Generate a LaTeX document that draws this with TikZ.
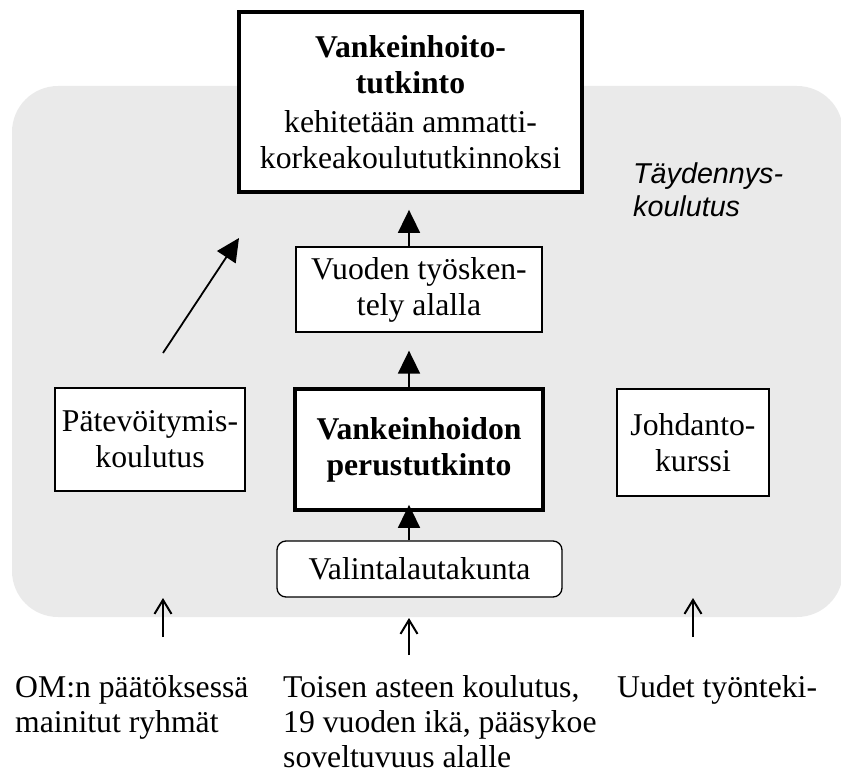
\documentclass[tikz,border=0pt]{standalone}
\usepackage{fontspec}
\setmainfont{Liberation Serif}
\newfontfamily\arialfont{Liberation Sans}
\usetikzlibrary{arrows.meta}
\definecolor{taustaharmaa}{RGB}{234,234,234}

\begin{document}
\begin{tikzpicture}[x=1pt,y=-1pt,
  teksti/.style={font=\fontsize{31.7pt}{36pt}\selectfont,align=center,inner sep=0pt},
  alateksti/.style={font=\fontsize{31.7pt}{35pt}\selectfont,align=left,anchor=base west,inner sep=0pt},
  laatikko/.style={teksti,draw,fill=white,line width=1.3pt},
  paksu/.style={teksti,draw,fill=white,line width=3.8pt},
  nuoli/.style={line width=1.8pt,-{Triangle[length=23pt,width=22pt]}},
  ohutnuoli/.style={line width=2pt,-{Straight Barb[length=14pt,width=17pt,line width=2pt]}}]
  \useasboundingbox (0,0) rectangle (841,773);

  %harmaa tausta
  \fill[taustaharmaa,rounded corners=46pt] (12,86) rectangle (843,617);
  \node[font=\arialfont\itshape\fontsize{28.7pt}{33pt}\selectfont,align=left,anchor=base west,inner sep=0pt] (taydennys) at (633,216) {Täydennys-\\koulutus};

  %laatikot
  \node[paksu,minimum width=343pt,minimum height=180pt] (tutkinto) at (410.5,102) {\textbf{Vankeinhoito-}\\\textbf{tutkinto}\\[3pt]kehitetään ammatti-\\korkeakoulututkinnoksi};
  \node[laatikko,minimum width=246pt,minimum height=85pt] (tyo) at (419,289.5) {Vuoden työsken-\\tely alalla};
  \node[paksu,minimum width=248pt,minimum height=121pt] (perus) at (419,449.5) {\textbf{Vankeinhoidon}\\\textbf{perustutkinto}};
  \node[laatikko,rounded corners=9pt,minimum width=285pt,minimum height=56pt] (valinta) at (419.5,569) {Valintalautakunta};
  \node[laatikko,minimum width=190pt,minimum height=103pt] (pate) at (150,439.5) {Pätevöitymis-\\koulutus};
  \node[laatikko,minimum width=152pt,minimum height=107pt] (johdanto) at (693,442.5) {Johdanto-\\kurssi};

  %nuolet
  \coordinate (akseli) at (409,0);
  \draw[nuoli,shorten >=-7pt] (valinta.north -| akseli) -- (perus.south -| akseli);
  \draw[nuoli,shorten >=18pt] (perus.north -| akseli) -- (tyo.south -| akseli);
  \draw[nuoli,shorten >=16pt] (tyo.north -| akseli) -- (tutkinto.south -| akseli);

  \coordinate (vino1) at (163,353);
  \coordinate (vino2) at (239,238);
  \draw[nuoli] (vino1) -- (vino2);

  %alarivi
  \coordinate (om1) at (163,637);
  \coordinate (om2) at (163,598);
  \coordinate (toinen1) at (409,655);
  \coordinate (toinen2) at (409,618);
  \coordinate (uudet1) at (693,637);
  \coordinate (uudet2) at (693,598);
  \draw[ohutnuoli] (om1) -- (om2);
  \draw[ohutnuoli] (toinen1) -- (toinen2);
  \draw[ohutnuoli] (uudet1) -- (uudet2);

  \node[alateksti] (omteksti) at (15,732) {OM:n päätöksessä\\mainitut ryhmät};
  \node[alateksti] (toinenteksti) at (283,767) {Toisen asteen koulutus,\\19 vuoden ikä, pääsykoe\\soveltuvuus alalle};
  \node[alateksti] (uudetteksti) at (617,697) {Uudet työnteki-};

\end{tikzpicture}
\end{document}
